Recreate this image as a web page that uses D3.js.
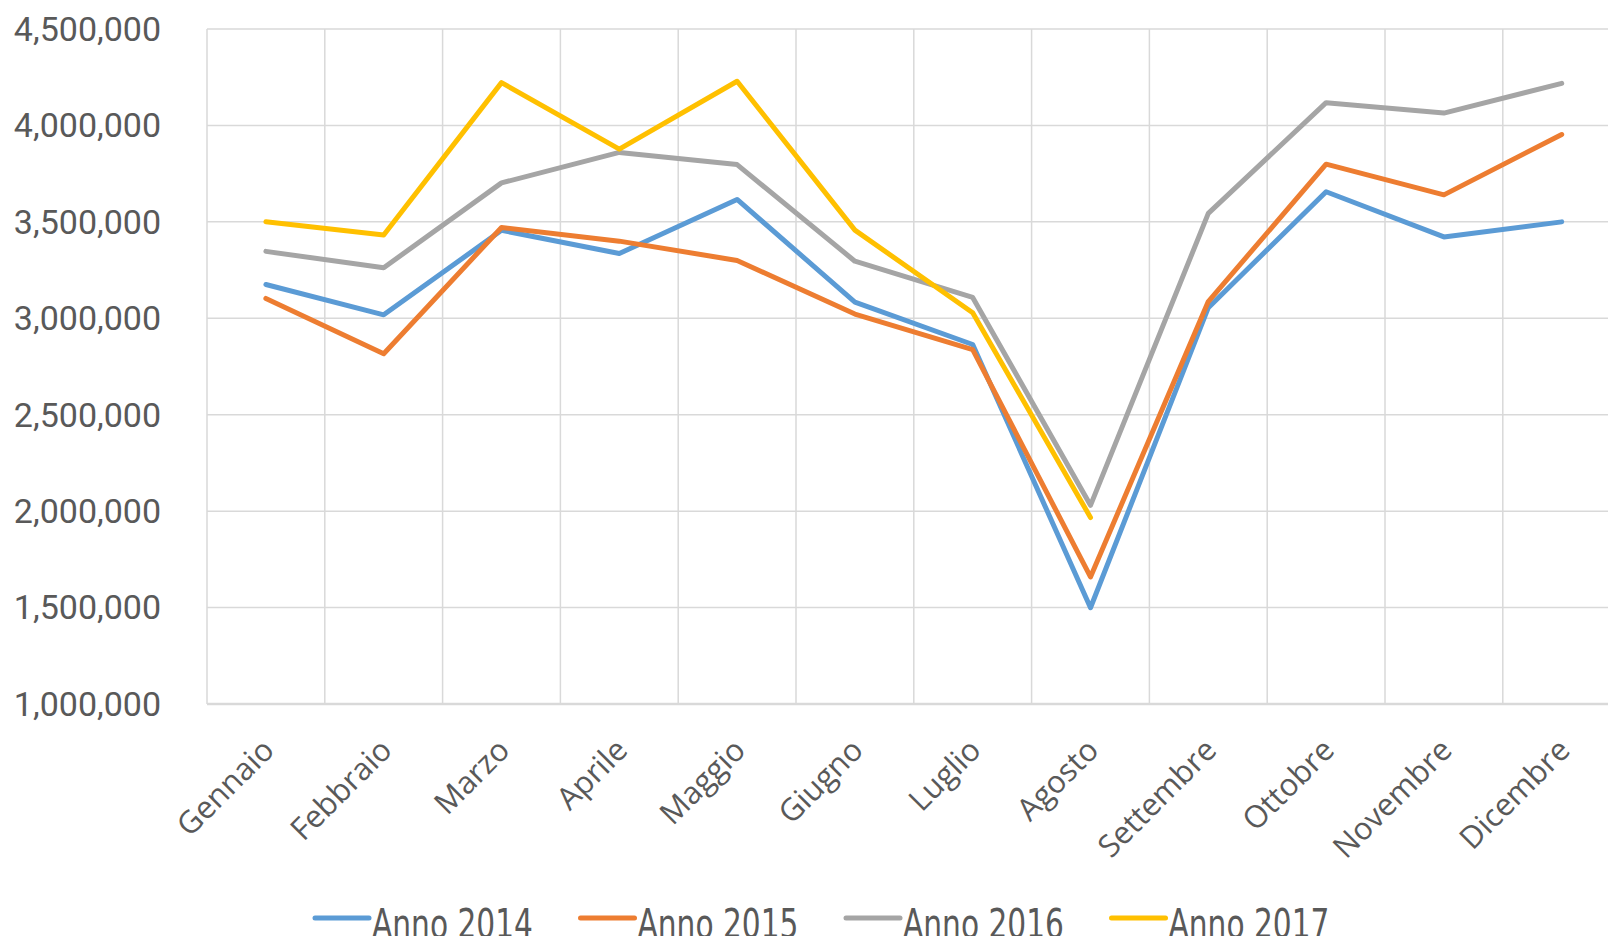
<!DOCTYPE html>
<html>
<head>
<meta charset="utf-8">
<script src="https://cdn.jsdelivr.net/npm/d3@7"></script>
<style>
  html, body { margin: 0; padding: 0; background: #fff; overflow: hidden; }
  svg { display: block; }
</style>
</head>
<body>
<svg id="chart"></svg>
<script>
// Mesi (categorie)
const months = ["Gennaio", "Febbraio", "Marzo", "Aprile", "Maggio", "Giugno",
  "Luglio", "Agosto", "Settembre", "Ottobre", "Novembre", "Dicembre"];

// Valori per anno
const anno2014 = [3175000, 3018000, 3456000, 3336000, 3616000, 3084000, 2864000, 1499000, 3055000, 3656000, 3422000, 3500000];
const anno2015 = [3103000, 2816000, 3471000, 3400000, 3300000, 3022000, 2838000, 1659000, 3087000, 3799000, 3640000, 3953000];
const anno2016 = [3347000, 3262000, 3702000, 3860000, 3797000, 3296000, 3108000, 2030000, 3544000, 4118000, 4064000, 4218000];
const anno2017 = [3500000, 3432000, 4222000, 3877000, 4229000, 3457000, 3029000, 1967000, null, null, null, null];

const seriesNames = ["Anno 2014", "Anno 2015", "Anno 2016", "Anno 2017"];
const seriesColors = ["#5B9BD5", "#ED7D31", "#A5A5A5", "#FFC000"];
const yTicks = [1000000, 1500000, 2000000, 2500000, 3000000, 3500000, 4000000, 4500000];

const width = 1608;
const height = 936;
const margin = { top: 29, left: 207, bottom: 232 };
const bandW = 117.8;

const series = [anno2014, anno2015, anno2016, anno2017].map((vals, i) => ({
  name: seriesNames[i],
  color: seriesColors[i],
  values: vals
}));

const svg = d3.select("#chart")
  .attr("width", width)
  .attr("height", height);

const x = d3.scaleBand()
  .domain(months)
  .range([margin.left, margin.left + bandW * months.length]);

const y = d3.scaleLinear()
  .domain([1000000, 4500000])
  .range([height - margin.bottom, margin.top]);

const plotRight = margin.left + bandW * months.length;
const plotBottom = height - margin.bottom;

// griglia orizzontale
svg.append("g")
  .selectAll("line")
  .data(yTicks.slice(1))
  .enter()
  .append("line")
  .attr("x1", margin.left)
  .attr("x2", plotRight)
  .attr("y1", d => y(d))
  .attr("y2", d => y(d))
  .attr("stroke", "#D9D9D9")
  .attr("stroke-width", 1.5);

// griglia verticale (bordi delle categorie)
svg.append("g")
  .selectAll("line")
  .data(months)
  .enter()
  .append("line")
  .attr("x1", d => x(d))
  .attr("x2", d => x(d))
  .attr("y1", margin.top)
  .attr("y2", plotBottom)
  .attr("stroke", "#D9D9D9")
  .attr("stroke-width", 1.5);

// asse orizzontale
svg.append("line")
  .attr("x1", margin.left)
  .attr("x2", plotRight)
  .attr("y1", plotBottom)
  .attr("y2", plotBottom)
  .attr("stroke", "#D9D9D9")
  .attr("stroke-width", 2.5);

// etichette asse Y
const fmt = d3.format(",");
svg.append("g")
  .selectAll("text")
  .data(yTicks)
  .enter()
  .append("text")
  .attr("x", 161)
  .attr("y", d => y(d))
  .attr("dy", "0.35em")
  .attr("text-anchor", "end")
  .attr("font-family", "Roboto, sans-serif")
  .attr("font-size", 34)
  .attr("fill", "#595959")
  .text(d => fmt(d));

// etichette asse X (ruotate)
svg.append("g")
  .selectAll("text")
  .data(months)
  .enter()
  .append("text")
  .attr("transform", d => `translate(${x(d) + x.bandwidth() / 2 + 10},${plotBottom + 48}) rotate(-45)`)
  .attr("text-anchor", "end")
  .attr("font-family", "'Open Sans', sans-serif")
  .attr("font-size", 31)
  .attr("fill", "#595959")
  .text(d => d);

// linee
const line = d3.line()
  .defined(d => d != null)
  .x((d, i) => x(months[i]) + x.bandwidth() / 2)
  .y(d => y(d));

svg.append("g")
  .selectAll("path")
  .data(series)
  .enter()
  .append("path")
  .attr("d", d => line(d.values))
  .attr("fill", "none")
  .attr("stroke", d => d.color)
  .attr("stroke-width", 5)
  .attr("stroke-linejoin", "round")
  .attr("stroke-linecap", "round");

// legenda
const legend = svg.append("g")
  .selectAll("g")
  .data(series)
  .enter()
  .append("g")
  .attr("transform", (d, i) => `translate(${315 + i * 265.5},918)`);

legend.append("line")
  .attr("x1", 0)
  .attr("x2", 54)
  .attr("stroke", d => d.color)
  .attr("stroke-width", 5)
  .attr("stroke-linecap", "round");

legend.append("text")
  .attr("x", 57)
  .attr("y", 20)
  .attr("font-family", "'Liberation Sans Narrow', 'DejaVu Sans Condensed', sans-serif")
  .attr("font-size", 40)
  .attr("textLength", 161)
  .attr("lengthAdjust", "spacingAndGlyphs")
  .attr("fill", "#595959")
  .text(d => d.name);
</script>
</body>
</html>
